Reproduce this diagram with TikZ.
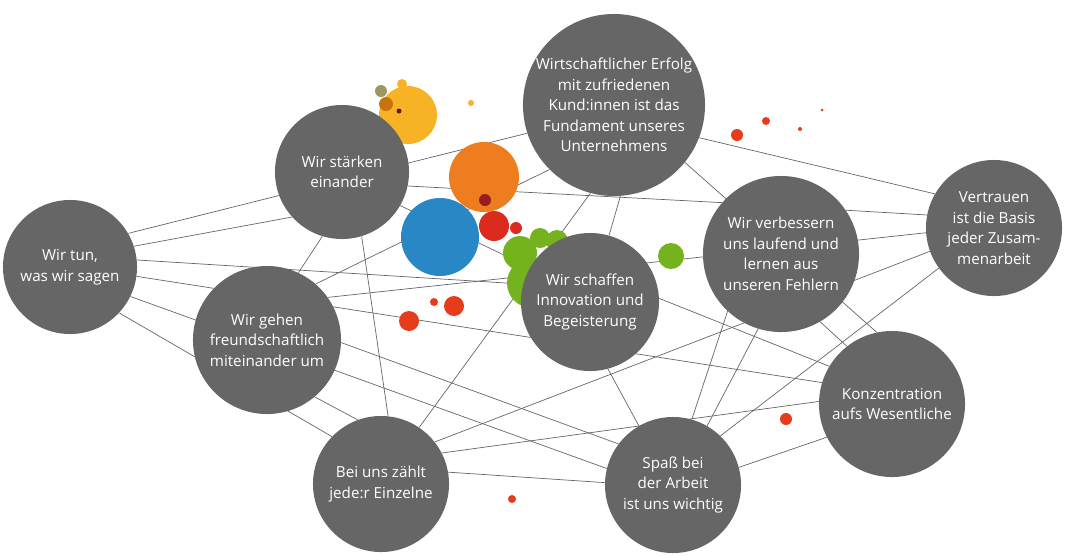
\documentclass[tikz,border=0pt]{standalone}
\usepackage{fontspec}
\setmainfont{Open Sans}
\usetikzlibrary{backgrounds}

\definecolor{bubblegray}{HTML}{666666}
\definecolor{wsorange}{HTML}{EE7D1F}
\definecolor{wsyellow}{HTML}{F8B226}
\definecolor{wsblue}{HTML}{2A87C6}
\definecolor{wsred}{HTML}{DC2A1F}
\definecolor{wsdot}{HTML}{E63C1C}
\definecolor{wsgreen}{HTML}{74B21E}
\definecolor{wsdark}{HTML}{9B1B1E}
\definecolor{wsolive}{HTML}{9A9A60}
\definecolor{wsbrown}{HTML}{C8720F}

\begin{document}
\begin{tikzpicture}[x=0.025cm, y=-0.025cm,
    value/.style={circle, fill=bubblegray, text=white, align=center, inner sep=0pt,
        font=\fontsize{10.8}{14.6}\selectfont},
    rad/.style={minimum size=#1*0.05cm},
    link/.style={draw=bubblegray, line width=0.5pt}]

\useasboundingbox (0,0) rectangle (1079,555);

\node[value, rad=91] (wirt) at (614,105) {Wirtschaftlicher Erfolg\\mit zufriedenen\\Kund:innen ist das\\Fundament unseres\\Unternehmens};
\node[value, rad=67] (staerken) at (342,172) {Wir stärken\\einander};
\node[value, rad=67] (tun) at (70,267) {Wir tun,\\was wir sagen};
\node[value, rad=74] (gehen) at (267,340) {Wir gehen\\freundschaftlich\\miteinander um};
\node[value, rad=69] (schaffen) at (590,302) {Wir schaffen\\Innovation und\\Begeisterung};
\node[value, rad=78] (verbessern) at (781,254) {Wir verbessern\\uns laufend und\\lernen aus\\unseren Fehlern};
\node[value, rad=68] (vertrauen) at (994,228) {Vertrauen\\ist die Basis\\jeder Zusam-\\menarbeit};
\node[value, rad=73] (konz) at (892,404) {Konzentration\\aufs Wesentliche};
\node[value, rad=68] (einzelne) at (381,484) {Bei uns zählt\\jede:r Einzelne};
\node[value, rad=68] (spass) at (673,485) {Spaß bei\\der Arbeit\\ist uns wichtig};

\begin{scope}[on background layer]
\foreach \a/\b in {tun.30/wirt.198, tun.18/staerken.222, tun.6/schaffen.165,
    tun.-8/konz.163, tun.-26/spass.166, tun.-43/einzelne.136,
    staerken.253/gehen.65, staerken.-73/einzelne.84, staerken.-30/schaffen.150,
    staerken.-12/verbessern.139, gehen.49/wirt.225, gehen.35/vertrauen.184,
    gehen.-2/spass.143, gehen.-50/einzelne.110, einzelne.56/wirt.255,
    einzelne.38/vertrauen.200, einzelne.27/konz.178, einzelne.10/spass.178,
    wirt.-21/vertrauen.150, wirt.-39/konz.102, wirt.-86/schaffen.74,
    schaffen.-75/spass.120, schaffen.3/konz.149, verbessern.34/vertrauen.169,
    verbessern.-60/konz.128, verbessern.227/spass.74, verbessern.253/spass.60,
    vertrauen.216/spass.46, spass.15/konz.207}
    \draw[link] (\a) -- (\b);

% bunte Blasen
\foreach \x/\y/\r/\c in {408/115/29/wsyellow, 402/84/5/wsyellow, 381/91/6/wsolive,
    386/104/7/wsbrown, 399/111/2.5/wsdark!70!black, 471/103/3/wsyellow,
    484/177/35/wsorange, 485/200/6/wsdark, 440/237/39/wsblue,
    494/226/15/wsred, 516/228/6/wsred,
    520/253/17/wsgreen, 540/238/10/wsgreen, 557/241/11/wsgreen, 532/283/25/wsgreen,
    671/256/13/wsgreen,
    409/321/10/wsdot, 454/306/10/wsdot, 434/302/4/wsdot, 786/419/6/wsdot,
    512/499/4/wsdot, 737/135/6/wsdot, 766/121/4/wsdot, 800/129/2/wsdot, 822/110/1.5/wsdot}
    \fill[\c] (\x,\y) circle (\r);
\end{scope}
\end{tikzpicture}
\end{document}
